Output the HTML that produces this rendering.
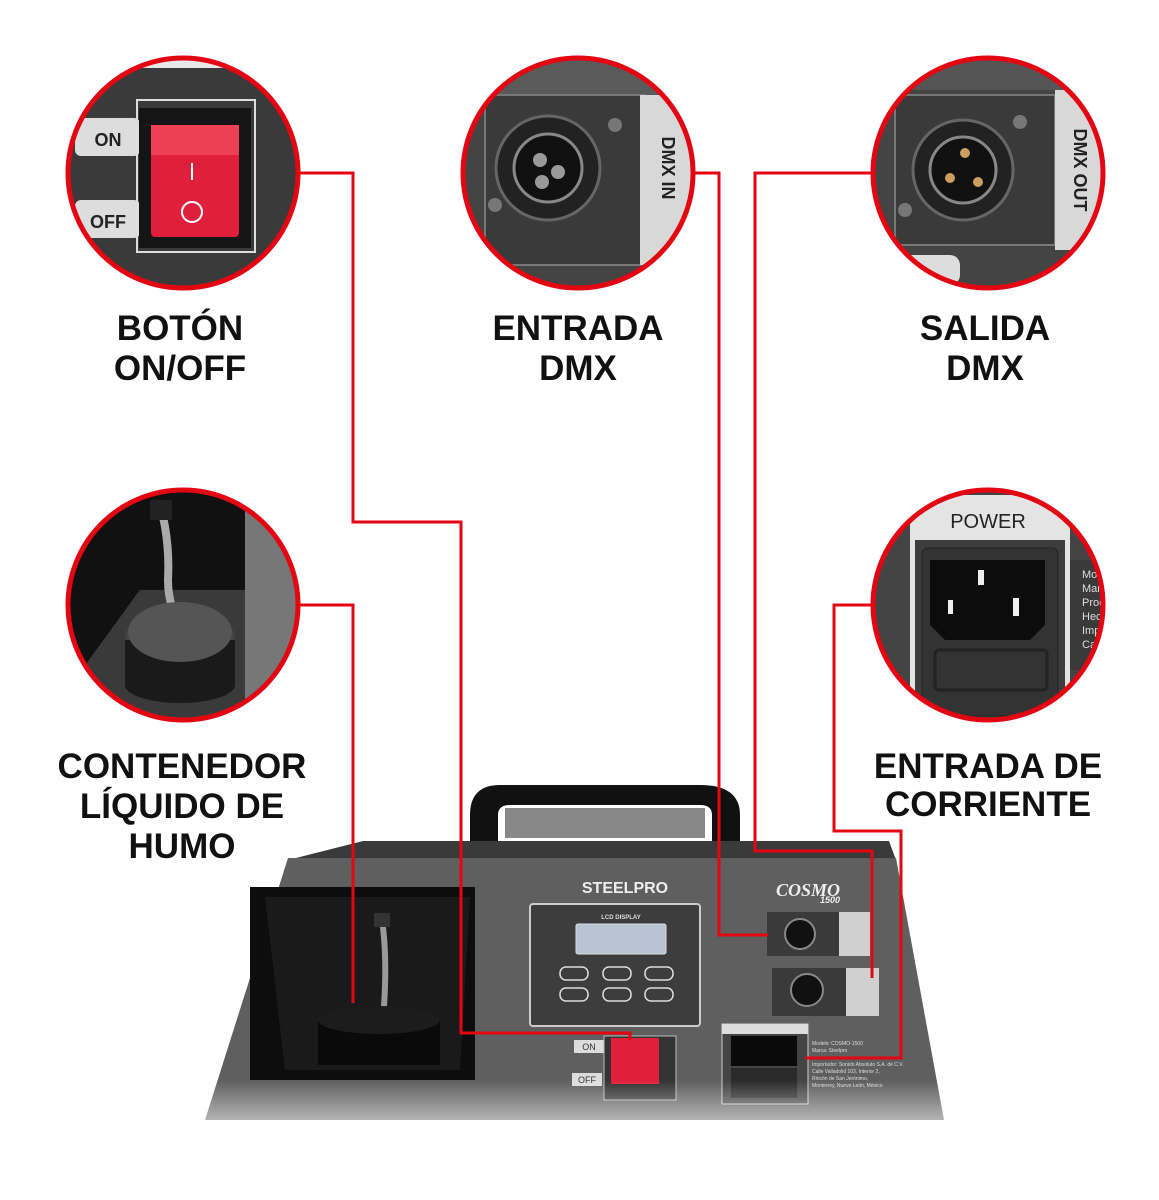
<!DOCTYPE html>
<html><head><meta charset="utf-8"><style>
html,body{margin:0;padding:0;background:#fff}
svg{display:block}
.lb{font-family:"Liberation Sans","DejaVu Sans",sans-serif;font-weight:bold;font-size:35px;fill:#111;text-anchor:middle}
.sm{font-family:"Liberation Sans",sans-serif;font-weight:bold;fill:#222}
</style></head><body>
<svg width="1159" height="1200" viewBox="0 0 1159 1200" xmlns="http://www.w3.org/2000/svg">
<defs>
<clipPath id="c1"><circle cx="183" cy="173" r="114"/></clipPath>
<clipPath id="c2"><circle cx="578" cy="173" r="114"/></clipPath>
<clipPath id="c3"><circle cx="988" cy="173" r="114"/></clipPath>
<clipPath id="c4"><circle cx="183" cy="605" r="114"/></clipPath>
<clipPath id="c5"><circle cx="988" cy="605" r="114"/></clipPath>
<linearGradient id="fade" x1="0" y1="0" x2="0" y2="1">
<stop offset="0" stop-color="#fff" stop-opacity="0"/><stop offset="1" stop-color="#fff" stop-opacity="1"/></linearGradient>
</defs>

<!-- Circle 1: switch -->
<g clip-path="url(#c1)">
<rect x="60" y="50" width="250" height="250" fill="#3a3a3a"/>
<rect x="60" y="50" width="250" height="18" fill="#e8e8e8"/>
<rect x="75" y="118" width="65" height="38" rx="6" fill="#ddd"/>
<rect x="75" y="200" width="65" height="38" rx="6" fill="#ddd"/>
<text x="108" y="146" class="sm" font-size="18" text-anchor="middle">ON</text>
<text x="108" y="228" class="sm" font-size="18" text-anchor="middle">OFF</text>
<rect x="137" y="100" width="118" height="152" fill="none" stroke="#ddd" stroke-width="2"/>
<rect x="139" y="108" width="112" height="140" fill="#151515"/>
<rect x="151" y="125" width="88" height="112" rx="4" fill="#e0203a"/>
<rect x="151" y="125" width="88" height="30" fill="#ee4055"/>
<line x1="192" y1="163" x2="192" y2="180" stroke="#fff" stroke-width="2"/>
<circle cx="192" cy="212" r="10" fill="none" stroke="#fff" stroke-width="2"/>
</g>
<circle cx="183" cy="173" r="115" fill="none" stroke="#e30613" stroke-width="5"/>

<!-- Circle 2: DMX IN -->
<g clip-path="url(#c2)">
<rect x="460" y="50" width="240" height="250" fill="#444"/>
<rect x="460" y="50" width="240" height="45" fill="#5a5a5a"/>
<rect x="485" y="95" width="160" height="170" fill="#3a3a3a" stroke="#777" stroke-width="2"/>
<rect x="640" y="95" width="60" height="170" fill="#d8d8d8"/>
<text transform="translate(662,168) rotate(90)" class="sm" font-size="18" text-anchor="middle">DMX IN</text>
<circle cx="548" cy="168" r="52" fill="#222" stroke="#666" stroke-width="3"/>
<circle cx="548" cy="168" r="34" fill="#111" stroke="#888" stroke-width="3"/>
<circle cx="540" cy="160" r="7" fill="#999"/><circle cx="558" cy="172" r="7" fill="#999"/><circle cx="542" cy="182" r="7" fill="#999"/>
<circle cx="495" cy="205" r="7" fill="#777"/><circle cx="615" cy="125" r="7" fill="#777"/>
</g>
<circle cx="578" cy="173" r="115" fill="none" stroke="#e30613" stroke-width="5"/>

<!-- Circle 3: DMX OUT -->
<g clip-path="url(#c3)">
<rect x="870" y="50" width="240" height="250" fill="#444"/>
<rect x="870" y="50" width="240" height="40" fill="#555"/>
<rect x="895" y="95" width="160" height="150" fill="#3a3a3a" stroke="#777" stroke-width="2"/>
<rect x="1055" y="90" width="55" height="160" fill="#d8d8d8"/>
<text transform="translate(1074,170) rotate(90)" class="sm" font-size="18" text-anchor="middle">DMX OUT</text>
<circle cx="963" cy="170" r="50" fill="#222" stroke="#666" stroke-width="3"/>
<circle cx="963" cy="170" r="33" fill="#111" stroke="#888" stroke-width="3"/>
<circle cx="965" cy="153" r="5" fill="#caa060"/><circle cx="950" cy="178" r="5" fill="#caa060"/><circle cx="978" cy="182" r="5" fill="#caa060"/>
<circle cx="905" cy="210" r="7" fill="#777"/><circle cx="1020" cy="122" r="7" fill="#777"/>
<rect x="900" y="255" width="60" height="30" rx="10" fill="#ddd"/>
</g>
<circle cx="988" cy="173" r="115" fill="none" stroke="#e30613" stroke-width="5"/>

<!-- Circle 4: tank -->
<g clip-path="url(#c4)">
<rect x="60" y="485" width="250" height="245" fill="#6a6a6a"/>
<polygon points="60,485 245,485 245,590 140,590 60,700" fill="#111"/>
<rect x="245" y="485" width="70" height="245" fill="#777"/>
<polygon points="140,590 245,590 245,720 60,720 60,700" fill="#3a3a3a"/>
<path d="M160 505 Q170 540 168 580 Q168 610 185 630" stroke="#aaa" stroke-width="8" fill="none"/>
<rect x="150" y="500" width="22" height="20" fill="#222"/>
<ellipse cx="180" cy="640" rx="55" ry="35" fill="#444"/>
<rect x="125" y="640" width="110" height="45" fill="#1a1a1a"/>
<ellipse cx="180" cy="685" rx="55" ry="18" fill="#1a1a1a"/>
<ellipse cx="180" cy="632" rx="52" ry="30" fill="#555"/>
</g>
<circle cx="183" cy="605" r="115" fill="none" stroke="#e30613" stroke-width="5"/>

<!-- Circle 5: power -->
<g clip-path="url(#c5)">
<rect x="860" y="485" width="250" height="245" fill="#444"/>
<rect x="910" y="495" width="160" height="230" fill="#e4e4e4"/>
<text x="988" y="528" font-family="Liberation Sans,sans-serif" font-size="20" fill="#222" text-anchor="middle">POWER</text>
<rect x="915" y="540" width="150" height="182" fill="#3d3d3d"/>
<rect x="922" y="548" width="136" height="168" rx="6" fill="#333" stroke="#222"/>
<path d="M930 560 H1045 V625 L1030 640 H945 L930 625 Z" fill="#0c0c0c"/>
<rect x="978" y="570" width="6" height="15" fill="#eee"/><rect x="948" y="600" width="5" height="14" fill="#eee"/><rect x="1013" y="598" width="6" height="18" fill="#eee"/>
<rect x="935" y="650" width="112" height="40" rx="4" fill="none" stroke="#222" stroke-width="3"/>
<rect x="1070" y="560" width="40" height="110" fill="#3a3a3a"/>
<text x="1082" y="578" font-family="Liberation Sans,sans-serif" font-size="11" fill="#ddd">Mo</text>
<text x="1082" y="592" font-family="Liberation Sans,sans-serif" font-size="11" fill="#ddd">Mar</text>
<text x="1082" y="606" font-family="Liberation Sans,sans-serif" font-size="11" fill="#ddd">Proc</text>
<text x="1082" y="620" font-family="Liberation Sans,sans-serif" font-size="11" fill="#ddd">Hecl</text>
<text x="1082" y="634" font-family="Liberation Sans,sans-serif" font-size="11" fill="#ddd">Imp</text>
<text x="1082" y="648" font-family="Liberation Sans,sans-serif" font-size="11" fill="#ddd">Cal</text>
</g>
<circle cx="988" cy="605" r="115" fill="none" stroke="#e30613" stroke-width="5"/>

<!-- Labels -->
<text x="180" y="340" class="lb">BOTÓN</text>
<text x="180" y="380" class="lb">ON/OFF</text>
<text x="578" y="340" class="lb">ENTRADA</text>
<text x="578" y="380" class="lb">DMX</text>
<text x="985" y="340" class="lb">SALIDA</text>
<text x="985" y="380" class="lb">DMX</text>
<text x="182" y="778" class="lb">CONTENEDOR</text>
<text x="182" y="818" class="lb">LÍQUIDO DE</text>
<text x="182" y="858" class="lb">HUMO</text>
<text x="988" y="778" class="lb">ENTRADA DE</text>
<text x="988" y="816" class="lb">CORRIENTE</text>

<!-- Machine -->
<path d="M470 855 L470 815 Q470 785 500 785 L700 785 Q740 785 740 815 L740 855 L712 855 L712 815 Q712 805 700 805 L510 805 Q498 805 498 815 L498 855 Z" fill="#111"/>
<rect x="505" y="808" width="200" height="30" fill="#888"/>
<polygon points="363,841 889,841 896,860 288,860" fill="#3a3a3a"/>
<polygon points="288,858 896,858 944,1120 205,1120" fill="#5f5f5f"/>
<polygon points="250,887 475,887 475,1080 250,1080" fill="#0d0d0d"/>
<polygon points="265,897 470,897 460,1070 285,1070" fill="#1a1a1a"/>
<path d="M382 920 Q388 960 383 1020" stroke="#999" stroke-width="6" fill="none"/>
<rect x="374" y="913" width="16" height="14" fill="#333"/>
<rect x="318" y="1020" width="122" height="45" fill="#0a0a0a"/>
<ellipse cx="379" cy="1020" rx="61" ry="14" fill="#1c1c1c"/>
<text x="625" y="893" font-family="Liberation Sans,sans-serif" font-weight="bold" font-size="16" fill="#eee" text-anchor="middle">STEELPRO</text>
<text x="808" y="896" font-family="Liberation Serif,serif" font-weight="bold" font-style="italic" font-size="18" fill="#eee" text-anchor="middle">COSMO</text>
<text x="830" y="903" font-family="Liberation Sans,sans-serif" font-weight="bold" font-style="italic" font-size="9" fill="#eee" text-anchor="middle">1500</text>
<rect x="530" y="904" width="170" height="122" rx="3" fill="#3d3d3d" stroke="#ccc" stroke-width="2"/>
<text x="621" y="919" font-family="Liberation Sans,sans-serif" font-weight="bold" font-size="6" fill="#ddd" text-anchor="middle">LCD DISPLAY</text>
<rect x="576" y="924" width="90" height="30" rx="2" fill="#b8c4d4" stroke="#ddd"/>
<g fill="none" stroke="#ddd" stroke-width="1.5">
<rect x="560" y="967" width="28" height="13" rx="6"/><rect x="603" y="967" width="28" height="13" rx="6"/><rect x="645" y="967" width="28" height="13" rx="6"/>
<rect x="560" y="988" width="28" height="13" rx="6"/><rect x="603" y="988" width="28" height="13" rx="6"/><rect x="645" y="988" width="28" height="13" rx="6"/>
</g>
<rect x="767" y="912" width="103" height="44" fill="#d0d0d0"/><rect x="767" y="912" width="72" height="44" fill="#3a3a3a"/>
<circle cx="800" cy="934" r="15" fill="#111" stroke="#888" stroke-width="2"/>
<rect x="772" y="968" width="107" height="48" fill="#d0d0d0"/><rect x="772" y="968" width="74" height="48" fill="#3a3a3a"/>
<circle cx="807" cy="990" r="16" fill="#111" stroke="#888" stroke-width="2"/>
<rect x="722" y="1024" width="86" height="80" fill="#444" stroke="#ccc"/>
<rect x="722" y="1024" width="86" height="10" fill="#ddd"/>
<rect x="731" y="1036" width="66" height="30" fill="#0a0a0a"/>
<rect x="731" y="1068" width="66" height="30" fill="#2a2a2a"/>
<rect x="574" y="1040" width="30" height="13" fill="#ddd"/><rect x="572" y="1073" width="30" height="13" fill="#ddd"/>
<text x="589" y="1050" font-family="Liberation Sans,sans-serif" font-size="9" fill="#333" text-anchor="middle">ON</text>
<text x="587" y="1083" font-family="Liberation Sans,sans-serif" font-size="9" fill="#333" text-anchor="middle">OFF</text>
<rect x="604" y="1036" width="72" height="64" fill="#333" stroke="#bbb"/>
<rect x="611" y="1038" width="48" height="46" fill="#e0203a"/>
<rect x="810" y="1040" width="90" height="55" fill="#5f5f5f"/>
<g fill="#ddd" font-family="Liberation Sans,sans-serif" font-size="5">
<text x="812" y="1045">Modelo: COSMO-1500</text><text x="812" y="1052">Marca: Steelpro</text><text x="812" y="1066">Importador: Sonido Absoluto S.A. de C.V.</text><text x="812" y="1073">Calle Valladolid 103, Interior 2,</text><text x="812" y="1080">Rincón de San Jerónimo,</text><text x="812" y="1087">Monterrey, Nuevo León, México</text>
</g>
<rect x="200" y="1080" width="760" height="75" fill="url(#fade)"/>
<rect x="200" y="1150" width="760" height="50" fill="#fff"/>

<!-- Red connectors -->
<g fill="none" stroke="#e30613" stroke-width="3">
<polyline points="298,173 353,173 353,522 461,522 461,1033 630,1033 630,1040"/>
<polyline points="693,173 719,173 719,935 768,935"/>
<polyline points="873,173 755,173 755,851 872,851 872,978"/>
<polyline points="298,605 353,605 353,1003"/>
<polyline points="873,605 834,605 834,831 901,831 901,1058 805,1058"/>
</g>
</svg>
</body></html>
